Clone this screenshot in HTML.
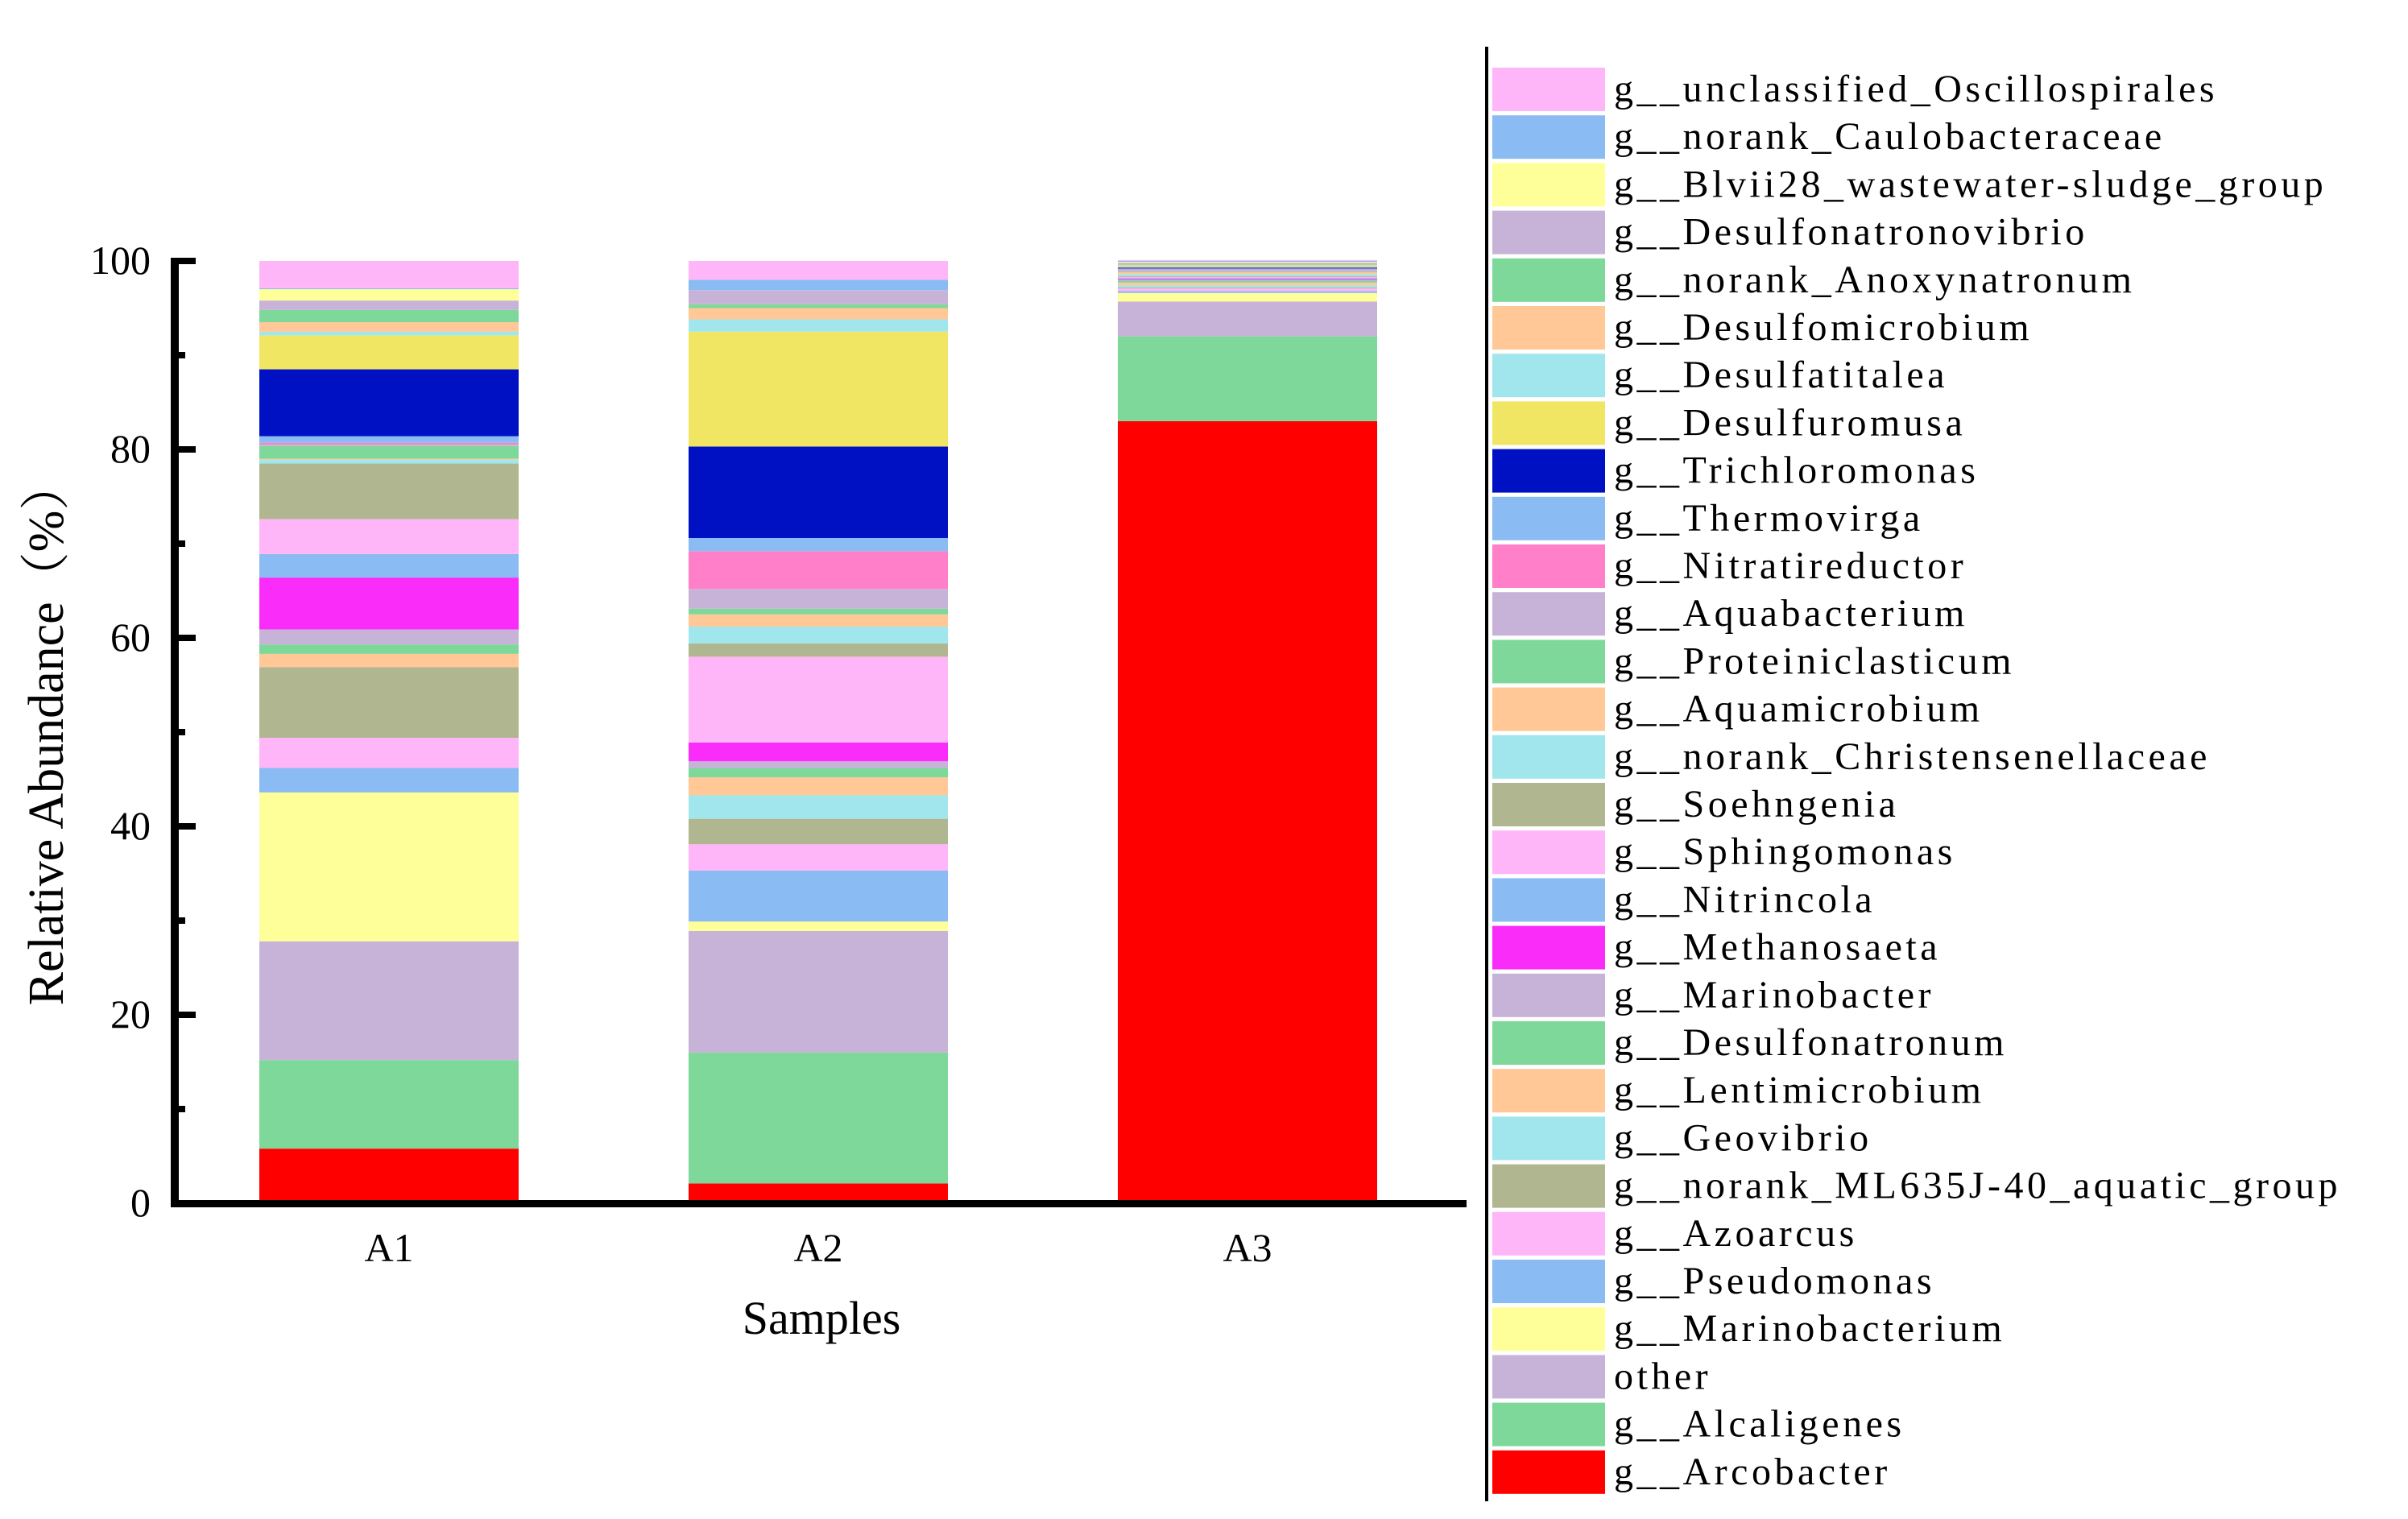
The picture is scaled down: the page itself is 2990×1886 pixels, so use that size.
<!DOCTYPE html>
<html><head><meta charset="utf-8"><style>
html,body{margin:0;padding:0;background:#fff;}
svg{display:block;}
text{font-family:"Liberation Serif",serif;fill:#000;}
</style></head><body>
<svg id="chart" width="2990" height="1886" viewBox="0 0 2990 1886" xmlns="http://www.w3.org/2000/svg">
<g id="plot"></g>
<g id="axes"></g>
<g id="legend"></g>
</svg>
<script>
const samples = ["A1","A2","A3"];
const seriesNames = ["g__Arcobacter","g__Alcaligenes","other","g__Marinobacterium","g__Pseudomonas","g__Azoarcus","g__norank_ML635J-40_aquatic_group","g__Geovibrio","g__Lentimicrobium","g__Desulfonatronum","g__Marinobacter","g__Methanosaeta","g__Nitrincola","g__Sphingomonas","g__Soehngenia","g__norank_Christensenellaceae","g__Aquamicrobium","g__Proteiniclasticum","g__Aquabacterium","g__Nitratireductor","g__Thermovirga","g__Trichloromonas","g__Desulfuromusa","g__Desulfatitalea","g__Desulfomicrobium","g__norank_Anoxynatronum","g__Desulfonatronovibrio","g__Blvii28_wastewater-sludge_group","g__norank_Caulobacteraceae","g__unclassified_Oscillospirales"];
const seriesColors = ["#FF0000","#7ED89A","#C8B3D8","#FFFF99","#8BBBF3","#FFB6F8","#B0B690","#A0E6EC","#FFC896","#7ED89A","#C8B3D8","#F92CF9","#8BBBF3","#FFB6F8","#B0B690","#A0E6EC","#FFC896","#7ED89A","#C8B3D8","#FF80C8","#8BBBF3","#0011C4","#F0E664","#A0E6EC","#FFC896","#7ED89A","#C8B3D8","#FFFF99","#8BBBF3","#FFB6F8"];
const valuesA1 = [5.8,9.4,12.6,15.8,2.6,3.2,7.5,0,1.4,1.0,1.6,5.5,2.5,3.7,5.9,0.4,0.1,1.4,0.1,0.2,0.7,7.1,3.6,0.4,1.0,1.3,1.0,1.2,0.1,2.9];
const valuesA2 = [2.1,13.9,12.9,1.0,5.4,2.8,2.7,2.5,1.9,1.0,0.7,2.0,0,9.1,1.4,1.8,1.3,0.6,2.1,4.0,1.4,9.7,12.2,1.3,1.2,0.4,1.5,0,1.1,2.0];
const valuesA3 = [83.0,9.0,3.7,0.9,0.2,0.3,0.1,0.2,0.3,0.2,0.1,0.1,0.1,0.1,0.1,0.2,0.2,0.1,0.1,0.1,0.1,0.1,0.1,0.1,0.1,0.1,0.1,0.1,0.1,0.1];
const yTicks = [0,20,40,60,80,100];
const yMinorTicks = [10,30,50,70,90];

const NS = "http://www.w3.org/2000/svg";
const Y0 = 1494, Y100 = 324, AX = 217, AXR = 1821;
const y = v => Y0 - (v/100)*(Y0-Y100);
const barLeft = [322, 855, 1388];
const BW = 322;
function el(tag, attrs, parent){ const e=document.createElementNS(NS,tag); for(const k in attrs) e.setAttribute(k,attrs[k]); parent.appendChild(e); return e; }

const plot = document.getElementById('plot');
[valuesA1,valuesA2,valuesA3].forEach((vals,si)=>{
  let cum = 0;
  vals.forEach((v,i)=>{
    if(v<=0){ cum+=v; return; }
    const r = el('rect',{x:barLeft[si], y:y(Math.min(cum+v,100.5)), width:BW, height:y(cum)-y(cum+v), fill:seriesColors[i]}, plot);
    
    
    cum += v;
  });
});

const axes = document.getElementById('axes');
let a = el('rect',{x:AX-5, y:Y100-4, width:10, height:Y0-Y100+9, fill:'#000'}, axes);


a = el('rect',{x:AX-5, y:Y0-4, width:AXR-AX+5, height:9, fill:'#000'}, axes);


yTicks.forEach(t=>{
  const tk = el('rect',{x:AX, y:y(t)-4, width:26, height:8, fill:'#000'}, axes);
  
  
  const lb = el('text',{x:187, y:y(t)+16, 'font-size':50, 'text-anchor':'end'}, axes);
  lb.textContent = t;
  
  
});
yMinorTicks.forEach(t=>{
  const tk = el('rect',{x:AX, y:y(t)-4, width:13, height:8, fill:'#000'}, axes);
  
  
});
samples.forEach((s,i)=>{
  const lb = el('text',{x:barLeft[i]+BW/2, y:1566, 'font-size':50, 'text-anchor':'middle'}, axes);
  lb.textContent = s;
  
  
});
let t = el('text',{x:1020, y:1656, 'font-size':58, 'text-anchor':'middle'}, axes);
t.textContent = 'Samples';


t = el('text',{x:0, y:0, 'font-size':62, 'text-anchor':'middle', transform:'translate(78,910) rotate(-90)'}, axes);
t.textContent = 'Relative Abundance（%）';
t.setAttribute('style','font-family:"Liberation Serif","Noto Serif CJK SC",serif');



const legend = document.getElementById('legend');
let ln = el('rect',{x:1844, y:58, width:4, height:1806, fill:'#000'}, legend);


const n = seriesNames.length;
for(let k=0;k<n;k++){
  const i = n-1-k;
  const top = 84 + k*59.2;
  const sw = el('rect',{x:1853, y:top, width:140, height:54, fill:seriesColors[i]}, legend);
  
  
  const lt = el('text',{x:2004, y:top+42, 'font-size':48, 'letter-spacing':4.5}, legend);
  lt.textContent = seriesNames[i];
  
  
}
</script>
</body></html>
